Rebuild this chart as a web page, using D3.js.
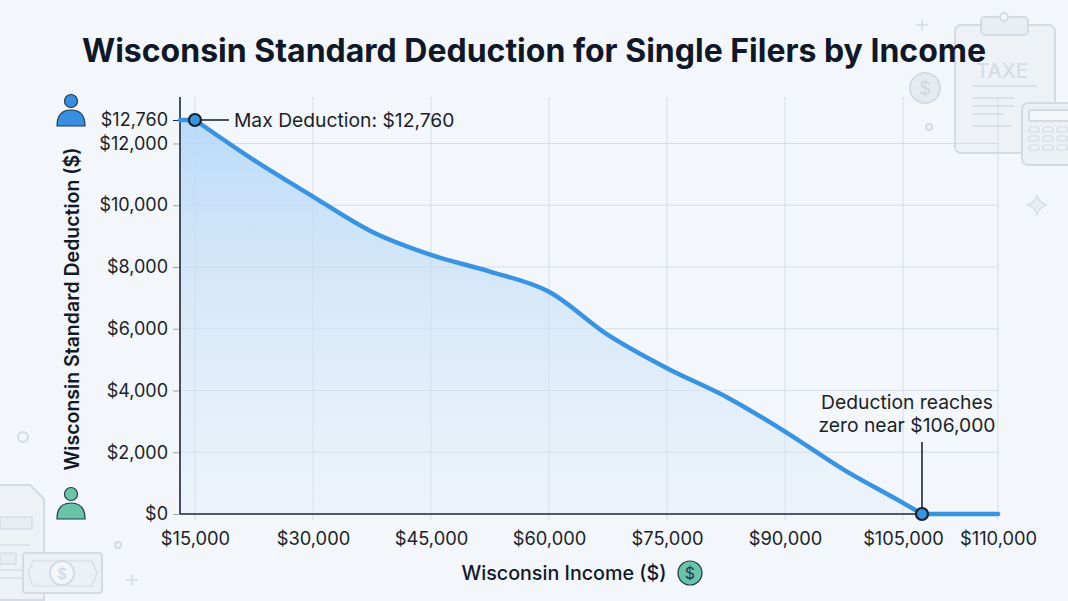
<!DOCTYPE html>
<html>
<head>
<meta charset="utf-8">
<script src="https://cdn.jsdelivr.net/npm/d3@7"></script>
<style>
  html, body { margin: 0; padding: 0; background: #f3f6fa; }
  #chart { width: 1068px; height: 601px; }
  text { font-family: Inter, "Noto Sans", sans-serif; }
</style>
</head>
<body>
<div id="chart"></div>
<script>
// data
const incomes = [13100, 15000, 22500, 30000, 37500, 45000, 52500, 60000, 67500, 75000, 82500, 90000, 97500, 105000, 106000, 110000];
const deductions = [12760, 12760, 11460, 10280, 9140, 8390, 7850, 7200, 5800, 4720, 3800, 2670, 1430, 360, 0, 0];
const xTicks = [15000, 30000, 45000, 60000, 75000, 90000, 105000, 110000];
const yTicks = [0, 2000, 4000, 6000, 8000, 10000, 12000, 12760];
const yGrid = [0, 2000, 4000, 6000, 8000, 10000, 12000];
const maxPoint = { income: 15000, value: 12760, label: "Max Deduction: $12,760" };
const zeroPoint = { income: 106000, value: 0, label: ["Deduction reaches", "zero near $106,000"] };

const w = 1068, h = 601;
const margin = { left: 180, right: 70, top: 97, bottom: 87 };

const svg = d3.select("#chart").append("svg")
  .attr("width", w).attr("height", h);

const defs = svg.append("defs");
const grad = defs.append("linearGradient")
  .attr("id", "areaGrad").attr("x1", 0).attr("y1", 0).attr("x2", 0).attr("y2", 1);
grad.append("stop").attr("offset", "0%").attr("stop-color", "#b5d8f8").attr("stop-opacity", 0.9);
grad.append("stop").attr("offset", "100%").attr("stop-color", "#dcebf8").attr("stop-opacity", 0.3);

svg.append("rect").attr("width", w).attr("height", h).attr("fill", "#f3f6fa");

// background decorations
const deco = svg.append("g").attr("fill", "#e9eef4").attr("stroke", "#d3dbe5").attr("stroke-width", 2);
// clipboard
deco.append("rect").attr("x", 955).attr("y", 25).attr("width", 100).attr("height", 128).attr("rx", 6).attr("fill", "#eef2f7");
deco.append("rect").attr("x", 981).attr("y", 17).attr("width", 47).attr("height", 18).attr("rx", 4);
deco.append("circle").attr("cx", 1004).attr("cy", 17).attr("r", 4).attr("fill", "#f3f6fa");
svg.append("text").attr("x", 1002).attr("y", 78).attr("text-anchor", "middle")
  .attr("font-size", 20).attr("fill", "#d6dde6").attr("font-weight", 500).text("TAXE");
[[972, 1037, 86], [972, 1014, 98], [972, 1014, 106], [972, 1003, 114], [972, 1012, 126]].forEach(l => {
  deco.append("line").attr("x1", l[0]).attr("x2", l[1]).attr("y1", l[2]).attr("y2", l[2]).attr("stroke-width", 1.5);
});
// calculator
deco.append("rect").attr("x", 1022).attr("y", 103).attr("width", 60).attr("height", 62).attr("rx", 6).attr("fill", "#edf1f6");
deco.append("rect").attr("x", 1029).attr("y", 110).attr("width", 44).attr("height", 11).attr("rx", 2).attr("fill", "#f5f7fa");
for (let r = 0; r < 3; r++) for (let c = 0; c < 3; c++) {
  deco.append("rect").attr("x", 1029 + c * 14).attr("y", 127 + r * 9).attr("width", 10).attr("height", 5).attr("rx", 2)
    .attr("stroke-width", 1.2).attr("fill", "none");
}
// coin
deco.append("circle").attr("cx", 925).attr("cy", 88).attr("r", 15).attr("fill", "#e6ebf1");
svg.append("text").attr("x", 925).attr("y", 95).attr("text-anchor", "middle").attr("font-size", 18)
  .attr("fill", "#d0d8e2").text("$");
deco.append("circle").attr("cx", 929).attr("cy", 127).attr("r", 3).attr("fill", "none");
deco.append("circle").attr("cx", 23).attr("cy", 437).attr("r", 5).attr("fill", "none");
deco.append("circle").attr("cx", 118).attr("cy", 545).attr("r", 3).attr("fill", "none");
deco.append("path").attr("d", "M922,19v12M916,25h12M132,574v12M126,580h12").attr("fill", "none").attr("stroke-width", 1.5);
deco.append("path").attr("d", "M1037,195 Q1039,203 1047,205 Q1039,207 1037,215 Q1035,207 1027,205 Q1035,203 1037,195Z")
  .attr("stroke-width", 1.2);
// document and bill bottom left
deco.append("path").attr("d", "M-5,485 H30 L44,499 V600 H-5 Z").attr("fill", "#eef2f7");
[[0, 517, 32, 12], [0, 553, 16, 11]].forEach(b => {
  deco.append("rect").attr("x", b[0]).attr("y", b[1]).attr("width", b[2]).attr("height", b[3]).attr("stroke-width", 1.2);
});
[[0, 30, 545], [0, 30, 570], [0, 30, 578]].forEach(l => {
  deco.append("line").attr("x1", l[0]).attr("x2", l[1]).attr("y1", l[2]).attr("y2", l[2]).attr("stroke-width", 1.2);
});
deco.append("rect").attr("x", 23).attr("y", 553).attr("width", 79).attr("height", 40).attr("rx", 3).attr("fill", "#edf1f6");
deco.append("path").attr("d", "M33,561 H92 L97,573 L92,586 H33 L28,573 Z").attr("fill", "none").attr("stroke-width", 1.2);
deco.append("circle").attr("cx", 62).attr("cy", 573).attr("r", 12).attr("fill", "#f3f6fa");
svg.append("text").attr("x", 62).attr("y", 579).attr("text-anchor", "middle").attr("font-size", 15)
  .attr("fill", "#cdd5df").text("$");

// scales
const x = d3.scaleLinear()
  .domain([13100, 105000, 110000])
  .range([margin.left, 903, w - margin.right]);
const y = d3.scaleLinear()
  .domain([0, 13505])
  .range([h - margin.bottom, margin.top]);

// grid
const grid = svg.append("g").attr("stroke", "#d7dee7").attr("stroke-width", 1);
grid.selectAll(".vg").data(xTicks).join("line")
  .attr("x1", d => x(d)).attr("x2", d => x(d))
  .attr("y1", margin.top).attr("y2", h - margin.bottom + 6);
grid.selectAll(".hg").data(yGrid).join("line")
  .attr("x1", margin.left).attr("x2", w - margin.right)
  .attr("y1", d => y(d)).attr("y2", d => y(d));

const pts = incomes.map((d, i) => ({ income: d, value: deductions[i] }));
const segs = [pts.slice(0, 2), pts.slice(1, 15), pts.slice(14)];

const area = d3.area()
  .x(d => x(d.income)).y0(y(0)).y1(d => y(d.value))
  .curve(d3.curveMonotoneX);
const line = d3.line()
  .x(d => x(d.income)).y(d => y(d.value))
  .curve(d3.curveMonotoneX);

svg.append("path").attr("d", segs.map(s => area(s)).join(""))
  .attr("fill", "url(#areaGrad)");

// axes
const yAxis = svg.append("g")
  .attr("transform", `translate(${margin.left},0)`)
  .call(d3.axisLeft(y).tickValues(yTicks).tickSize(7).tickPadding(5)
    .tickFormat(d => "$" + d3.format(",")(d)));
yAxis.select(".domain").remove();
yAxis.selectAll("line").attr("stroke", "#9aa6b5");
yAxis.selectAll(".tick").filter(d => d === 12760).select("line").attr("stroke", "#1f2937");
yAxis.selectAll("text").attr("font-size", 18).attr("fill", "#1a1f29").attr("font-family", "Inter, sans-serif");

const xAxis = svg.append("g")
  .attr("transform", `translate(0,${h - margin.bottom})`)
  .call(d3.axisBottom(x).tickValues(xTicks).tickSize(0).tickPadding(18)
    .tickFormat(d => "$" + d3.format(",")(d)));
xAxis.select(".domain").remove();
xAxis.selectAll("text").attr("font-size", 18.3).attr("fill", "#1a1f29").attr("font-family", "Inter, sans-serif");

svg.append("line")
  .attr("x1", margin.left).attr("x2", x(zeroPoint.income))
  .attr("y1", y(0)).attr("y2", y(0))
  .attr("stroke", "#1f2937").attr("stroke-width", 1.6);
svg.append("line")
  .attr("x1", margin.left).attr("x2", margin.left)
  .attr("y1", margin.top).attr("y2", y(0))
  .attr("stroke", "#1f2937").attr("stroke-width", 1.6);

svg.append("path").attr("d", segs.map(s => line(s)).join(""))
  .attr("fill", "none").attr("stroke", "#3a93e0").attr("stroke-width", 4.5)
  .attr("stroke-linecap", "round").attr("stroke-linejoin", "round");

// annotations
svg.append("line")
  .attr("x1", x(maxPoint.income) + 6).attr("x2", x(maxPoint.income) + 34)
  .attr("y1", y(maxPoint.value)).attr("y2", y(maxPoint.value))
  .attr("stroke", "#1f2937").attr("stroke-width", 1.6);
svg.append("text")
  .attr("x", x(maxPoint.income) + 39).attr("y", y(maxPoint.value) + 7)
  .attr("font-size", 19.3).attr("fill", "#1a1f29").text(maxPoint.label);

svg.append("line")
  .attr("x1", x(zeroPoint.income)).attr("x2", x(zeroPoint.income))
  .attr("y1", y(0) - 72).attr("y2", y(0) - 6)
  .attr("stroke", "#1f2937").attr("stroke-width", 1.6);
svg.append("text")
  .attr("x", x(zeroPoint.income) - 15).attr("y", y(0) - 105)
  .attr("text-anchor", "middle").attr("font-size", 19.3).attr("fill", "#1a1f29")
  .selectAll("tspan").data(zeroPoint.label).join("tspan")
  .attr("x", x(zeroPoint.income) - 15).attr("dy", (d, i) => i ? 23 : 0).text(d => d);

svg.selectAll(".marker").data([maxPoint, zeroPoint]).join("circle")
  .attr("cx", d => x(d.income)).attr("cy", d => y(d.value)).attr("r", 6)
  .attr("fill", "#3a93e0").attr("stroke", "#16202e").attr("stroke-width", 2.2);

// title and axis labels
svg.append("text")
  .attr("x", 534).attr("y", 62).attr("text-anchor", "middle")
  .attr("font-size", 32).attr("font-weight", 700).attr("fill", "#101828")
  .text("Wisconsin Standard Deduction for Single Filers by Income");

svg.append("text")
  .attr("transform", "translate(79,309) rotate(-90)")
  .attr("text-anchor", "middle").attr("font-size", 19.5).attr("font-weight", 600).attr("fill", "#111827")
  .text("Wisconsin Standard Deduction ($)");

svg.append("text")
  .attr("x", 564).attr("y", 580).attr("text-anchor", "middle")
  .attr("font-size", 19.7).attr("font-weight", 500).attr("fill", "#111827")
  .text("Wisconsin Income ($)");

// small icons next to labels
const person = (cx, cy, fill) => {
  const g = svg.append("g").attr("fill", fill).attr("stroke", "#1f3a4d").attr("stroke-width", 1.2);
  g.append("circle").attr("cx", cx).attr("cy", cy - 9).attr("r", 6.5);
  g.append("path").attr("d", `M${cx - 14},${cy + 16} Q${cx - 14},${cy} ${cx},${cy} Q${cx + 14},${cy} ${cx + 14},${cy + 16} Z`);
};
person(71, 110, "#3a8ee0");
person(71, 503, "#6cc4a7");
svg.append("circle").attr("cx", 690).attr("cy", 573).attr("r", 12)
  .attr("fill", "#6cc4a7").attr("stroke", "#1f3a4d").attr("stroke-width", 1.2);
svg.append("text").attr("x", 690).attr("y", 579).attr("text-anchor", "middle")
  .attr("font-size", 16).attr("fill", "#1f3a4d").text("$");
</script>
</body>
</html>
